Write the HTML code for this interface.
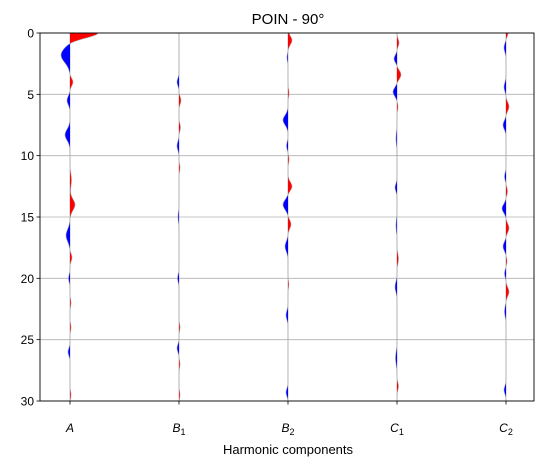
<!DOCTYPE html>
<html><head><meta charset="utf-8"><style>
body{margin:0;background:#fff;}
svg{display:block;font-family:"Liberation Sans","DejaVu Sans",sans-serif;}
</style></head><body>
<svg id="chart" width="543" height="466">
<text x="288" y="24" font-size="15" text-anchor="middle">POIN - 90°</text>
<g id="grid"></g><g id="traces"></g><g id="axes"></g>
<text x="288" y="454" font-size="13" text-anchor="middle">Harmonic components</text>
</svg>
<script>
const categories = [["A",""],["B","1"],["B","2"],["C","1"],["C","2"]];
const yTicks = [0,5,10,15,20,25,30];
// peaks per component: [depth, amplitude(px, + red right, - blue left), width]
const peaksA  = [[0,28,0.4],[1.8,-9,0.6],[4,3,0.3],[5.5,-3,0.35],[8.3,-5,0.45],[12,1.5,0.5],[14,5,0.45],[16.5,-4,0.5],[18.3,2,0.3],[20,-1.5,0.3],[22,1,0.3],[24,1,0.3],[26,-2,0.3],[29.5,1,0.3]];
const peaksB1 = [[4,-2,0.3],[5.5,2,0.3],[7.7,1.5,0.3],[9.2,-2,0.35],[11,1,0.3],[15,-1,0.4],[20,-1.5,0.3],[24,1,0.3],[25.7,-2,0.3],[27,1,0.3],[29.5,1,0.3]];
const peaksB2 = [[0.6,4,0.35],[2,-1,0.3],[4.9,1,0.3],[7.1,-5,0.4],[9.2,-1.5,0.3],[10.3,1,0.3],[12.5,4,0.35],[14,-5,0.4],[15.6,3,0.35],[17.4,-3,0.4],[20.5,0.8,0.3],[23,-2,0.35],[29.3,-2,0.3]];
const peaksC1 = [[0.8,2,0.3],[2.1,-3,0.3],[3.4,4,0.35],[4.8,-4,0.35],[6,1,0.3],[8.6,-1,0.5],[12.6,-2,0.3],[15.7,-1,0.5],[18.4,1.5,0.4],[20.7,-2,0.4],[26.5,-1.5,0.5],[28.8,1.5,0.3]];
const peaksC2 = [[0,2,0.3],[1.2,-2,0.35],[4.4,-2,0.35],[6,3,0.35],[7.5,-3,0.35],[11.7,-1.5,0.3],[12.9,1.5,0.3],[14.3,-4,0.35],[15.9,3,0.35],[17.4,-3,0.35],[18.6,1,0.3],[19.6,-1.5,0.3],[21.1,3,0.35],[22.7,-1.5,0.4],[29.1,-2,0.3]];
const series = [peaksA,peaksB1,peaksB2,peaksC1,peaksC2];

const L=40,R=534,T=33,B=401;
const yS=v=>T+(v/30)*(B-T);
const xS=i=>70+i*109;
const NS="http://www.w3.org/2000/svg";
function mk(tag,attrs,parent){const e=document.createElementNS(NS,tag);for(const k in attrs)e.setAttribute(k,attrs[k]);parent.appendChild(e);return e;}
const grid=document.getElementById('grid'),tr=document.getElementById('traces'),ax=document.getElementById('axes');
yTicks.forEach(t=>{
  const g=mk('line',{x1:L,x2:R,y1:yS(t),y2:yS(t),stroke:'#b0b0b0','stroke-width':0.8},grid);
  
  
  mk('line',{x1:L-3.5,x2:L,y1:yS(t),y2:yS(t),stroke:'#000','stroke-width':0.8},ax);
  const tx=mk('text',{x:L-6,y:yS(t)+4.5,'font-size':12,'text-anchor':'end'},ax);tx.textContent=t;
  
  
});
categories.forEach((c,i)=>{
  const x=xS(i);
  const g=mk('line',{x1:x,x2:x,y1:T,y2:B,stroke:'#b0b0b0','stroke-width':0.8},grid);
  
  
  mk('line',{x1:x,x2:x,y1:B,y2:B+3.5,stroke:'#000','stroke-width':0.8},ax);
  const tx=mk('text',{x:x,y:432,'font-size':12,'text-anchor':'middle','font-style':'italic'},ax);
  
  
  const a=mk('tspan',{},tx);a.textContent=c[0];
  if(c[1]){const s=mk('tspan',{'font-size':9,dy:3,'font-style':'normal'},tx);s.textContent=c[1];}
  // trace
  const pk=series[i];const N=600;const pts=[];
  for(let k=0;k<=N;k++){const d=30*k/N;let v=0;pk.forEach(p=>{v+=p[1]*Math.exp(-0.5*((d-p[0])/p[2])**2);});pts.push([d,v]);}
  let pos='M'+x+','+yS(0),neg='M'+x+','+yS(0),line='';
  pts.forEach(([d,v],k)=>{const y=yS(d);pos+=' L'+(x+Math.max(v,0))+','+y;neg+=' L'+(x+Math.min(v,0))+','+y;line+=(k?' L':'M')+(x+v)+','+y;});
  pos+=' L'+x+','+yS(30)+'Z';neg+=' L'+x+','+yS(30)+'Z';
  const p1=mk('path',{d:pos,fill:'#ff0000'},tr);
  
  
  const p2=mk('path',{d:neg,fill:'#0000ff'},tr);
  
  
  const p3=mk('path',{d:line,fill:'none',stroke:'#aaaaaa','stroke-width':0.6},tr);
  
  
});
const fr=mk('rect',{x:L,y:T,width:R-L,height:B-T,fill:'none',stroke:'#000','stroke-width':0.9},ax);


</script>
</body></html>
